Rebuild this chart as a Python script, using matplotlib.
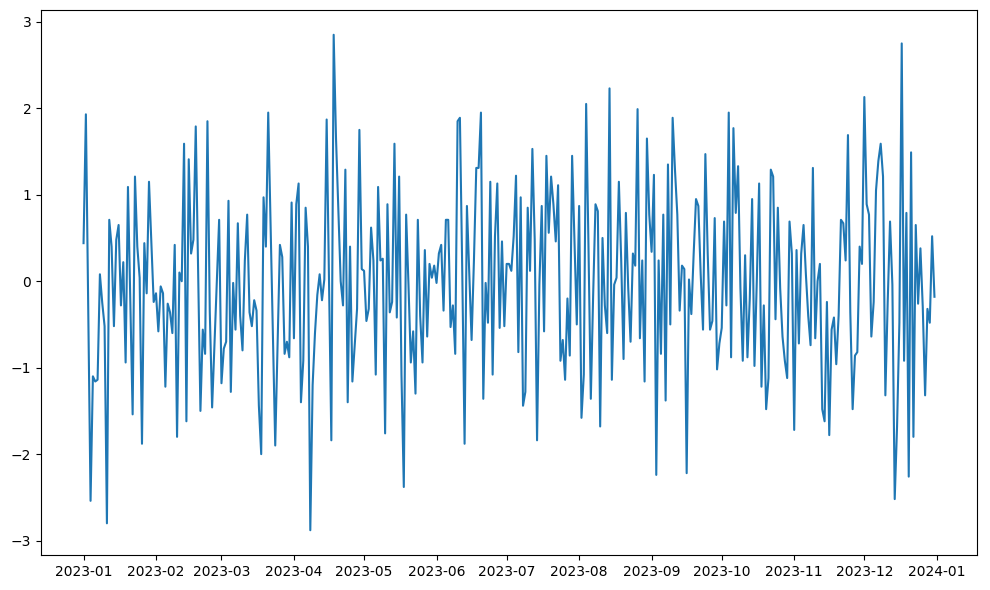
import matplotlib
matplotlib.use("Agg")
import matplotlib.pyplot as plt
import matplotlib.dates as mdates
import pandas as pd

# daily values, 2023-01-01 .. 2023-12-31
start_date = "2023-01-01"
values = [
    0.44, 1.93, -0.30, -2.54, -1.10, -1.16, -1.14, 0.08, -0.25, -0.52,
    -2.80, 0.71, 0.40, -0.52, 0.48, 0.65, -0.28, 0.22, -0.94, 1.09,
    -0.22, -1.54, 1.21, 0.40, 0.04, -1.88, 0.44, -0.14, 1.15, 0.45,
    -0.24,
    -0.14, -0.58, -0.06, -0.14, -1.22, -0.26, -0.36, -0.60, 0.42, -1.80,
    0.10, 0.00, 1.59, -1.62, 1.41, 0.32, 0.48, 1.79, 0.14, -1.50,
    -0.56, -0.84, 1.85, -0.35, -1.46, -0.74, -0.02, 0.71, -1.18, -0.78,
    -0.70,
    0.93, -1.28, -0.02, -0.56, 0.67, -0.40, -0.80, 0.24, 0.77, -0.36,
    -0.52, -0.22, -0.34, -1.44, -2.00, 0.97, 0.40, 1.95, 0.65, -0.60,
    -1.90, -0.74, 0.42, 0.28, -0.84, -0.70, -0.88, 0.91, -0.66, 0.89,
    1.13,
    -1.40, -0.92, 0.85, 0.40, -2.88, -1.20, -0.60, -0.16, 0.08, -0.22,
    0.02, 1.87, 0.01, -1.84, 2.85, 1.65, 0.84, 0.00, -0.28, 1.29,
    -1.40, 0.40, -1.16, -0.74, -0.32, 1.75, 0.14, 0.12, -0.46, -0.32,
    0.62, 0.24, -1.08, 1.09, 0.24, 0.26, -1.76, 0.89, -0.36, -0.24,
    1.59, -0.42, 1.21, -1.08, -2.38, 0.77, -0.04, -0.94, -0.58, -1.30,
    0.71, -0.40, -0.94, 0.36, -0.64, 0.20, 0.04, 0.18, -0.02, 0.32,
    0.42,
    -0.34, 0.71, 0.71, -0.53, -0.28, -0.84, 1.85, 1.89, 0.12, -1.88,
    0.87, 0.08, -0.68, 0.24, 1.31, 1.31, 1.95, -1.36, -0.02, -0.48,
    1.15, -1.08, 0.52, 1.13, -0.54, 0.46, -0.52, 0.20, 0.20, 0.12,
    0.52,
    1.22, -0.82, 0.97, -1.44, -1.28, 0.85, 0.12, 1.53, 0.48, -1.84,
    -0.04, 0.87, -0.58, 1.45, 0.56, 1.21, 0.89, 0.46, 1.11, -0.92,
    -0.68, -1.14, -0.20, -0.86, 1.45, 0.48, -0.50, 0.87, -1.58, -1.08,
    2.05,
    0.40, -1.36, -0.16, 0.89, 0.81, -1.68, 0.50, -0.28, -0.60, 2.23,
    -1.14, -0.04, 0.04, 1.15, 0.24, -0.90, 0.79, -0.08, -0.70, 0.32,
    0.18, 1.99, -0.66, 0.24, -1.16, 1.65, 0.77, 0.34, 1.23, -2.24,
    0.24, -0.84, 0.77, -1.38, 1.35, -0.50, 1.89, 1.29, 0.77, -0.34,
    0.18, 0.14, -2.22, 0.02, -0.38, 0.32, 0.95, 0.87, 0.08, -0.56,
    1.47, 0.32, -0.56, -0.46, 0.73, -1.02, -0.72, -0.54, 0.69, -0.28,
    1.95, -0.88, 1.77, 0.79, 1.33, -0.08, -0.92, 0.30, -0.88, -0.20,
    0.95, -0.98, 0.00, 1.13, -1.22, -0.28, -1.48, -1.12, 1.29, 1.21,
    -0.44, 0.85, -0.08, -0.64, -0.92, -1.12, 0.69, 0.32, -1.72, 0.36,
    -0.72, 0.32, 0.65, 0.08, -0.40, -0.74, 1.31, -0.66, 0.00, 0.20,
    -1.48, -1.62, -0.24, -1.78, -0.56, -0.42, -0.96, -0.40, 0.71, 0.67,
    0.24, 1.69, -0.36, -1.48, -0.86, -0.82, 0.40, 0.20, 2.13, 0.89,
    0.77,
    -0.64, -0.24, 1.05, 1.39, 1.59, 1.21, -1.32, -0.24, 0.69, -0.04,
    -2.52, -1.68, -0.48, 2.75, -0.92, 0.79, -2.26, 1.49, -1.80, 0.65,
    -0.26, 0.38, -0.30, -1.32, -0.32, -0.48, 0.52, -0.18,
]

dates = pd.date_range(start_date, periods=len(values), freq="D")

fig, ax = plt.subplots(figsize=(9.9, 5.9), dpi=100)
ax.plot(dates, values)

# one tick per month, like the original
ax.xaxis.set_major_locator(mdates.MonthLocator())
ax.xaxis.set_major_formatter(mdates.DateFormatter("%Y-%m"))

fig.subplots_adjust(left=41/990, right=977/990, top=1 - 10/590, bottom=1 - 555/590)
plt.savefig("out.png")
